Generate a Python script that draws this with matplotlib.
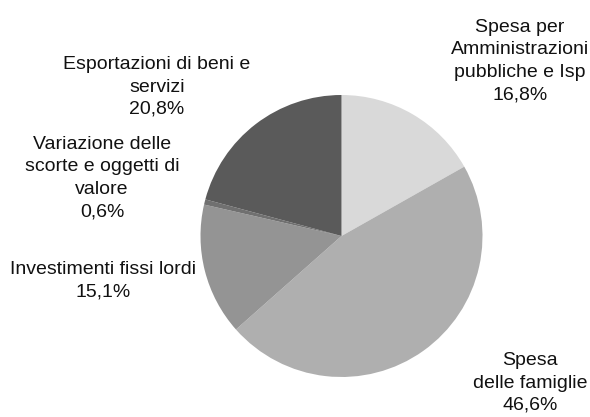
import matplotlib.pyplot as plt

# Composizione della domanda (quote percentuali)
categorie = [
    "Spesa per\nAmministrazioni\npubbliche e Isp",
    "Spesa\ndelle famiglie",
    "Investimenti fissi lordi",
    "Variazione delle\nscorte e oggetti di\nvalore",
    "Esportazioni di beni e\nservizi",
]
quote = [16.8, 46.6, 15.1, 0.6, 20.8]
colori = ["#d9d9d9", "#afafaf", "#949494", "#707070", "#5a5a5a"]

# posizioni delle etichette (centro del testo, in pixel della figura)
pos_etichette = [(520, 61), (530, 383), (103, 281), (102, 178), (157, 87)]

W, H = 590, 417
CX, CY, R = 341.5, 236, 141

plt.rcParams['font.family'] = ['Liberation Sans', 'DejaVu Sans']

fig = plt.figure(figsize=(W / 100, H / 100), dpi=100)
ax = fig.add_axes([0, 0, 1, 1])
ax.pie(quote, colors=colori, startangle=90, counterclock=False,
       radius=1, center=(0, 0), wedgeprops=dict(linewidth=0))
ax.set_xlim(-CX / R, (W - CX) / R)
ax.set_ylim(-(H - CY) / R, CY / R)
ax.set_aspect('equal')
ax.axis('off')

for nome, val, (px, py) in zip(categorie, quote, pos_etichette):
    testo = f"{nome}\n{val:.1f}%".replace('.', ',')
    ax.text((px - CX) / R, (CY - py) / R, testo, ha='center', va='center',
            fontsize=14, linespacing=1.42, color='#111111')

fig.savefig('out.png', dpi=100)
